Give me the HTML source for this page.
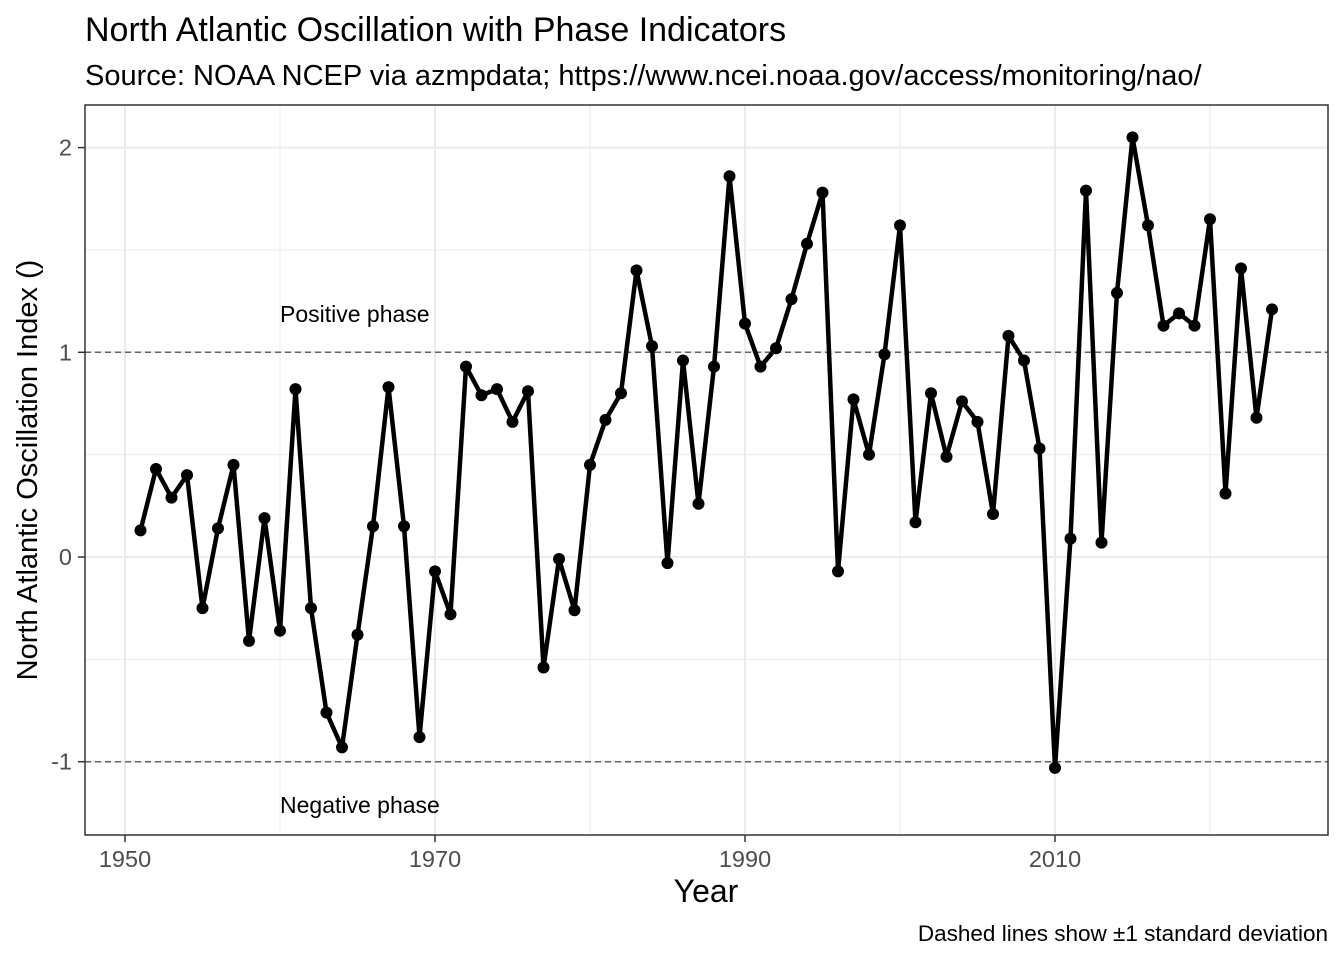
<!DOCTYPE html>
<html><head><meta charset="utf-8"><style>
body{margin:0;background:#fff;}
svg{display:block;font-family:"Liberation Sans",Arial,sans-serif;}
</style></head><body>
<svg id="chart" width="1344" height="960" xmlns="http://www.w3.org/2000/svg">
<rect width="1344" height="960" fill="#fff"/>
<text x="85" y="41" font-size="34" fill="#000">North Atlantic Oscillation with Phase Indicators</text>
<text x="85" y="85" font-size="29" fill="#000">Source: NOAA NCEP via azmpdata; https://www.ncei.noaa.gov/access/monitoring/nao/</text>
<g id="grid"></g>
<g id="refs"></g>
<g id="series"></g>
<rect x="85" y="105" width="1243" height="730" fill="none" stroke="#333" stroke-width="1.5"/>
<g id="axes"></g>
<text x="280" y="322" font-size="23" fill="#000">Positive phase</text>
<text x="280" y="813" font-size="23" fill="#000">Negative phase</text>
<text x="706" y="902" font-size="32" text-anchor="middle" fill="#000">Year</text>
<text transform="translate(37,470) rotate(-90)" font-size="29" text-anchor="middle" fill="#000">North Atlantic Oscillation Index ()</text>
<text x="1328" y="941" font-size="22.5" text-anchor="end" fill="#000">Dashed lines show ±1 standard deviation</text>
</svg>
<script>
const years=[1951,1952,1953,1954,1955,1956,1957,1958,1959,1960,1961,1962,1963,1964,1965,1966,1967,1968,1969,1970,1971,1972,1973,1974,1975,1976,1977,1978,1979,1980,1981,1982,1983,1984,1985,1986,1987,1988,1989,1990,1991,1992,1993,1994,1995,1996,1997,1998,1999,2000,2001,2002,2003,2004,2005,2006,2007,2008,2009,2010,2011,2012,2013,2014,2015,2016,2017,2018,2019,2020,2021,2022,2023,2024];
const naoValues=[0.13,0.43,0.29,0.40,-0.25,0.14,0.45,-0.41,0.19,-0.36,0.82,-0.25,-0.76,-0.93,-0.38,0.15,0.83,0.15,-0.88,-0.07,-0.28,0.93,0.79,0.82,0.66,0.81,-0.54,-0.01,-0.26,0.45,0.67,0.80,1.40,1.03,-0.03,0.96,0.26,0.93,1.86,1.14,0.93,1.02,1.26,1.53,1.78,-0.07,0.77,0.50,0.99,1.62,0.17,0.80,0.49,0.76,0.66,0.21,1.08,0.96,0.53,-1.03,0.09,1.79,0.07,1.29,2.05,1.62,1.13,1.19,1.13,1.65,0.31,1.41,0.68,1.21];
const xTicks=[1950,1970,1990,2010];
const xMinor=[1960,1980,2000,2020];
const yTicks=[-1,0,1,2];
const yMinor=[-0.5,0.5,1.5];
const refLevels=[1,-1];
const NS="http://www.w3.org/2000/svg";
const X=y=>125+(y-1950)*15.5;
const Y=v=>557-v*204.7;
function mk(tag,attrs,parent){const e=document.createElementNS(NS,tag);for(const k in attrs)e.setAttribute(k,attrs[k]);parent.appendChild(e);return e;}
const grid=document.getElementById('grid'),axes=document.getElementById('axes'),refs=document.getElementById('refs'),series=document.getElementById('series');
xMinor.forEach(t=>{const l=mk('line',{x1:X(t),x2:X(t),y1:105,y2:835,stroke:'#ebebeb','stroke-width':1},grid);});
yMinor.forEach(t=>{const l=mk('line',{x1:85,x2:1328,y1:Y(t),y2:Y(t),stroke:'#ebebeb','stroke-width':1},grid);});
xTicks.forEach(t=>{const l=mk('line',{x1:X(t),x2:X(t),y1:105,y2:835,stroke:'#ebebeb','stroke-width':2},grid);
const tk=mk('line',{x1:X(t),x2:X(t),y1:835,y2:842,stroke:'#333','stroke-width':1.5},axes);
const tx=mk('text',{x:X(t),y:867,'font-size':23.5,'text-anchor':'middle',fill:'#4d4d4d'},axes);tx.textContent=t;});
yTicks.forEach(t=>{const l=mk('line',{x1:85,x2:1328,y1:Y(t),y2:Y(t),stroke:'#ebebeb','stroke-width':2},grid);
const tk=mk('line',{x1:78,x2:85,y1:Y(t),y2:Y(t),stroke:'#333','stroke-width':1.5},axes);
const tx=mk('text',{x:72,y:Y(t)+8,'font-size':23.5,'text-anchor':'end',fill:'#4d4d4d'},axes);tx.textContent=t;});
refLevels.forEach(v=>{const l=mk('line',{x1:85,x2:1328,y1:Y(v),y2:Y(v),stroke:'#666','stroke-width':1.5,'stroke-dasharray':'6,4'},refs);});
const pts=years.map((y,i)=>X(y)+','+Y(naoValues[i])).join(' ');
const pl=mk('polyline',{points:pts,fill:'none',stroke:'#000','stroke-width':4.5,'stroke-linejoin':'round'},series);


years.forEach((y,i)=>{const c=mk('circle',{cx:X(y),cy:Y(naoValues[i]),r:6,fill:'#000'},series);

});
</script>
</body></html>
